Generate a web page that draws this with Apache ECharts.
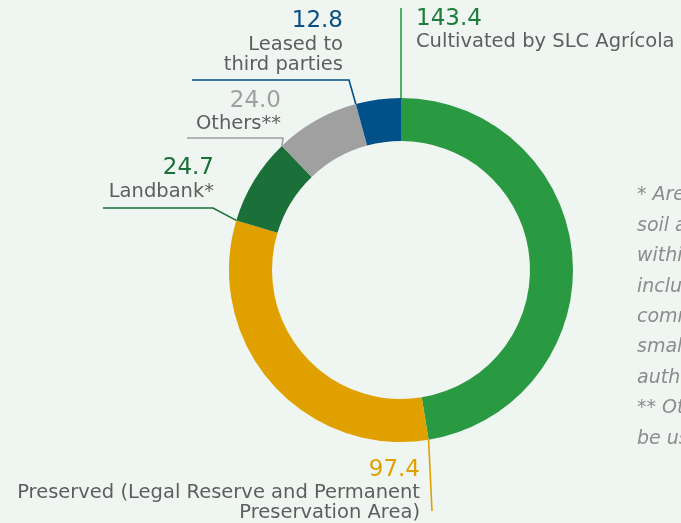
<!DOCTYPE html>
<html>
<head>
<meta charset="utf-8">
<script src="https://cdn.jsdelivr.net/npm/echarts@6/dist/echarts.min.js"></script>
<style>
    html, body { margin: 0; padding: 0; background: #eff5f0; }
    #chart { width: 681px; height: 523px; }
</style>
</head>
<body>
<div id="chart"></div>
<script>
// data, clockwise from the top
const names = ['Cultivated by SLC Agrícola', 'Preserved (Legal Reserve and Permanent\nPreservation Area)', 'Landbank*', 'Others**', 'Leased to\nthird parties']
const values = [143.4, 97.4, 24.7, 24.0, 12.8]
const colors = ['#2a9a42', '#e0a000', '#1b6f39', '#a0a0a0', '#00508a']
const valueColors = ['#1e7d3c', '#e0a000', '#1b6f39', '#a0a0a0', '#0b4f86']
const footnote = ['* Areas with appropriate', 'soil and climate conditions', 'within our farms, not', 'including areas under', 'commitment or leased,', 'smaller areas subject to', 'authorization.', '** Others: areas that cannot', 'be used for agriculture.']

// label placement: anchor, side, elbow and end of the leader line
const center = [401, 270]
const radius = [129, 172]
const labelPos = [
    { x: 416, y: 6, align: 'left', elbow: [401, 8], end: [401, 8] },
    { x: 420, y: 457, align: 'right', elbow: [432, 511], end: [432, 511] },
    { x: 214, y: 155.5, align: 'right', elbow: [213, 208], end: [103, 208] },
    { x: 281, y: 88, align: 'right', elbow: [283, 138], end: [187, 138] },
    { x: 343, y: 8.5, align: 'right', elbow: [349, 80], end: [192, 80] }
]

const total = values.reduce((a, b) => a + b, 0)
// leader lines start on the slice's leading edge
function startPoint(i) {
    let sum = 0
    for (let k = 0; k < i; k++) sum += values[k]
    const a = sum / total * Math.PI * 2
    return [center[0] + radius[1] * Math.sin(a), center[1] - radius[1] * Math.cos(a)]
}

const chart = echarts.init(document.getElementById('chart'))
const font = '"DejaVu Sans", sans-serif'

chart.setOption({
    backgroundColor: '#eff5f0',
    animation: false,
    graphic: footnote.map((t, i) => ({
        type: 'text',
        left: 637,
        top: 186 + i * 30.4,
        style: {
            text: t,
            font: 'italic 19px ' + font,
            fill: '#8c8c8c'
        }
    })),
    series: [{
        type: 'pie',
        center: center,
        radius: radius,
        startAngle: 90,
        clockwise: true,
        avoidLabelOverlap: false,
        silent: true,
        label: {
            show: true,
            position: 'outside',
            fontFamily: font
        },
        labelLine: {
            show: true,
            smooth: false,
            lineStyle: { width: 1.6 }
        },
        labelLayout: function (params) {
            const p = labelPos[params.dataIndex]
            return {
                x: p.x,
                y: p.y,
                align: p.align,
                verticalAlign: 'top',
                labelLinePoints: [startPoint(params.dataIndex), p.elbow, p.end]
            }
        },
        data: values.map((v, i) => ({
            value: v,
            name: names[i],
            itemStyle: { color: colors[i] },
            labelLine: { lineStyle: { color: colors[i] } },
            label: {
                formatter: '{v|' + v.toFixed(1) + '}\n' + names[i].split('\n').map(s => '{n|' + s + '}').join('\n'),
                rich: {
                    v: { fontSize: 23, fontWeight: 'normal', lineHeight: 26, color: valueColors[i], fontFamily: font, align: labelPos[i].align },
                    n: { fontSize: 19.5, lineHeight: 20, color: '#5e5e5e', fontFamily: font, align: labelPos[i].align }
                }
            }
        }))
    }]
})
</script>
</body>
</html>
